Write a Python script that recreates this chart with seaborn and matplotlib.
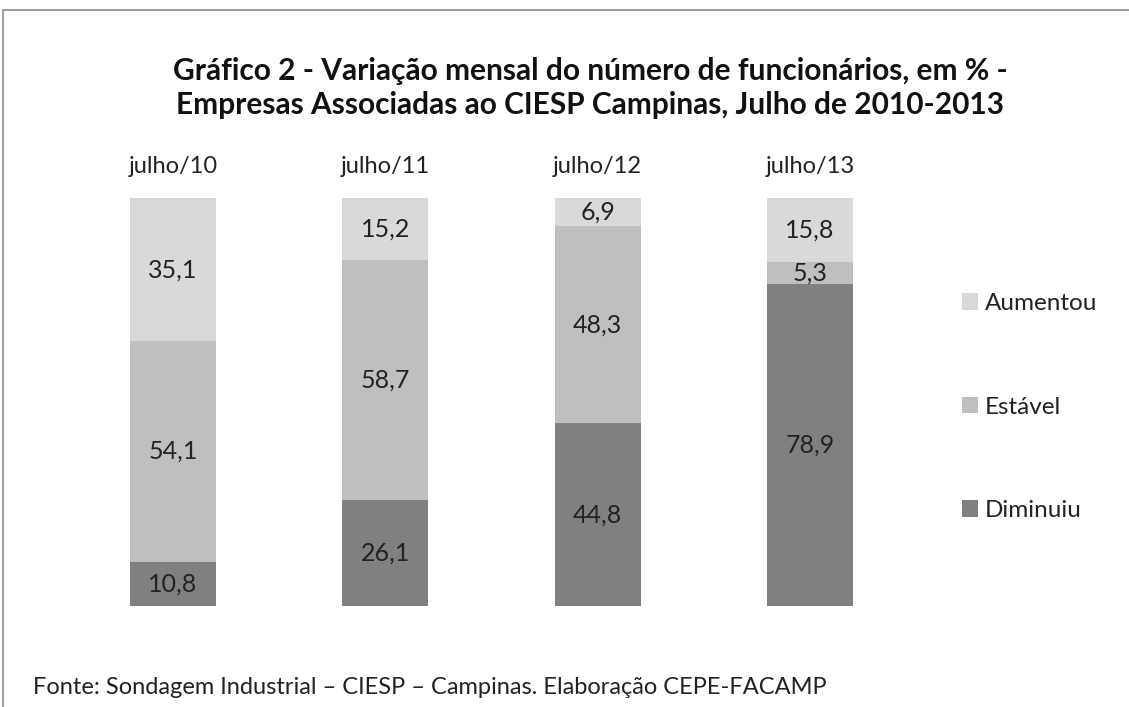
import pandas as pd
import matplotlib.pyplot as plt
import seaborn as sns
from matplotlib.patches import Rectangle, Patch

periodos = ["julho/10", "julho/11", "julho/12", "julho/13"]
aumentou = [35.1, 15.2, 6.9, 15.8]
estavel = [54.1, 58.7, 48.3, 5.3]
diminuiu = [10.8, 26.1, 44.8, 78.9]

cores = {"Aumentou": "#d9d9d9", "Estável": "#bfbfbf", "Diminuiu": "#808080"}

sns.set_theme(style="white")
plt.rcParams["font.family"] = ["Lato", "DejaVu Sans"]

df = pd.DataFrame({"periodo": periodos, "Aumentou": aumentou,
                   "Estável": estavel, "Diminuiu": diminuiu})
df["base_est"] = df["Diminuiu"]
df["topo_est"] = df["Diminuiu"] + df["Estável"]
df["topo"] = df["topo_est"] + df["Aumentou"]

fig = plt.figure(figsize=(11.29, 7.07), dpi=100)
ax = fig.add_axes([66.9 / 1129, 101 / 707, 849.2 / 1129, 408 / 707])

# stacked bars drawn as cumulative totals, tallest first
for col, nome in [("topo", "Aumentou"), ("topo_est", "Estável"), ("Diminuiu", "Diminuiu")]:
    sns.barplot(data=df, x="periodo", y=col, color=cores[nome],
                width=0.405, saturation=1, linewidth=0, ax=ax)

ax.set_xlim(-0.5, 3.5)
ax.set_ylim(0, 100)
ax.set_xlabel("")
ax.set_ylabel("")
ax.set_yticks([])
ax.xaxis.tick_top()
ax.tick_params(axis="x", length=0, pad=15, labelsize=17, labelcolor="#222222")
sns.despine(ax=ax, left=True, bottom=True, top=True, right=True)

def fmt(v):
    return f"{v:.1f}".replace(".", ",")

for i, row in df.iterrows():
    ax.text(i, row["Diminuiu"] / 2, fmt(row["Diminuiu"]), ha="center", va="center",
            fontsize=18, color="#222222")
    ax.text(i, row["base_est"] + row["Estável"] / 2, fmt(row["Estável"]),
            ha="center", va="center", fontsize=18, color="#222222")
    ax.text(i, row["topo_est"] + row["Aumentou"] / 2, fmt(row["Aumentou"]),
            ha="center", va="center", fontsize=18, color="#222222")

handles = [Patch(facecolor=cores[k], edgecolor="none") for k in ["Aumentou", "Estável", "Diminuiu"]]
leg = fig.legend(handles, ["Aumentou", "Estável", "Diminuiu"], loc="center left",
                 bbox_to_anchor=(940 / 1129, 1 - 407 / 707), frameon=False,
                 fontsize=17.5, labelspacing=3.4, handlelength=0.66, handleheight=0.66,
                 handletextpad=0.3)
for t in leg.get_texts():
    t.set_color("#222222")

fig.text(590 / 1129, 1 - 71 / 707,
         "Gráfico 2 - Variação mensal do número de funcionários, em % -",
         ha="center", va="center", fontsize=21.5, fontweight="bold", color="#111111")
fig.text(590 / 1129, 1 - 105 / 707,
         "Empresas Associadas ao CIESP Campinas, Julho de 2010-2013",
         ha="center", va="center", fontsize=21.5, fontweight="bold", color="#111111")
fig.text(33 / 1129, 1 - 687 / 707,
         "Fonte: Sondagem Industrial – CIESP – Campinas. Elaboração CEPE-FACAMP",
         ha="left", va="center", fontsize=17, color="#222222")

# outer chart frame (cropped at right and bottom)
fig.patches.append(Rectangle((3 / 1129, -0.1), 1.2, 1.1 - 10 / 707,
                             transform=fig.transFigure, fill=False,
                             edgecolor="#8c8c8c", linewidth=1.2))

fig.savefig("out.png", dpi=100)
